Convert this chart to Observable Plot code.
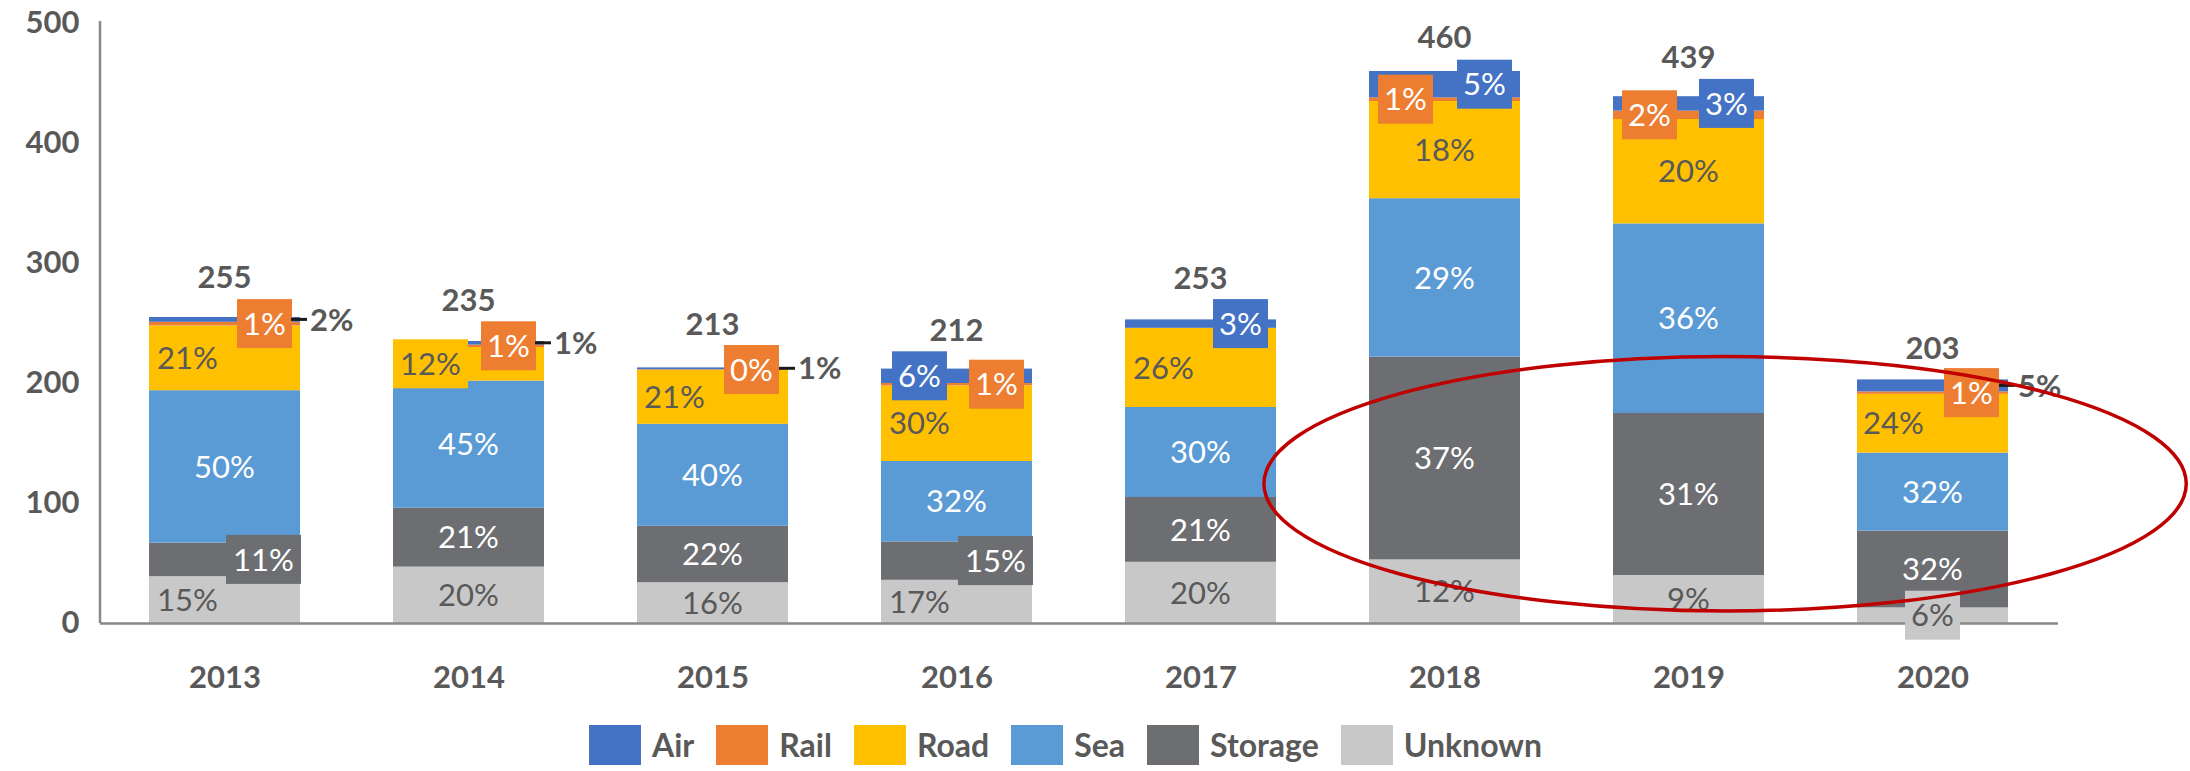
<!DOCTYPE html>
<html><head><meta charset="utf-8">
<script src="https://cdn.jsdelivr.net/npm/d3@7"></script>
<script src="https://cdn.jsdelivr.net/npm/@observablehq/plot@0.6"></script>
<style>
html,body{margin:0;padding:0;background:#fff;}
#chart{width:2190px;height:771px;position:relative;overflow:hidden;font-family:Lato,"Open Sans",sans-serif;}
#chart svg{display:block;}
.legend{display:flex;align-items:center;height:59px;padding-left:589px;padding-top:6px;box-sizing:border-box;}
.item{display:flex;align-items:center;margin-right:22px;}
.sw{width:52px;height:40px;margin-right:11px;}
.lab{font-size:32px;font-weight:700;color:#595959;line-height:40px;}
</style></head><body><div id="chart"></div>
<script>
// ---- data ----
const years = ["2013","2014","2015","2016","2017","2018","2019","2020"];
const legendOrder = ["Air","Rail","Road","Sea","Storage","Unknown"];
const stackOrder = ["Unknown","Storage","Sea","Road","Rail","Air"];
const unknown = [39, 47, 34, 36, 51, 53, 40, 13];
const storage = [28, 49, 47, 32, 54, 169, 135, 64];
const sea     = [127, 106, 85, 67, 75, 132, 158, 65];
const road    = [54, 28, 45, 63, 66, 81, 87, 49];
const rail    = [3, 2, 0.5, 2, 0, 3, 7, 2];
const air     = [4, 3, 1.5, 12, 7, 22, 12, 10];
const totals  = [255, 235, 213, 212, 253, 460, 439, 203];
const yTicks  = [0, 100, 200, 300, 400, 500];

// ---- styles / layout ----
const colors = {Air:"#4472C4", Rail:"#ED7D31", Road:"#FFC000", Sea:"#5B9BD5", Storage:"#6D6E71", Unknown:"#C8C8C8"};
const labelInk = {Air:"#FFFFFF", Rail:"#FFFFFF", Road:"#595959", Sea:"#FFFFFF", Storage:"#FFFFFF", Unknown:"#595959"};
const darkInk = "#595959";
// label placement per year: dx offset (px), box = label drawn on series-coloured box, out = outside with leader
const labelLayout = {
  "2013": {Unknown:{dx:-37}, Storage:{dx:39, box:true}, Sea:{}, Road:{dx:-37}, Rail:{dx:40, box:true}, Air:{out:true}},
  "2014": {Unknown:{}, Storage:{}, Sea:{}, Road:{dx:-38, box:true}, Rail:{dx:40, box:true}, Air:{out:true}},
  "2015": {Unknown:{}, Storage:{}, Sea:{}, Road:{dx:-38}, Rail:{dx:39, box:true}, Air:{out:true}},
  "2016": {Unknown:{dx:-37}, Storage:{dx:39, box:true}, Sea:{}, Road:{dx:-37}, Rail:{dx:40, box:true}, Air:{dx:-37, box:true}},
  "2017": {Unknown:{}, Storage:{}, Sea:{}, Road:{dx:-37}, Air:{dx:40, box:true}},
  "2018": {Unknown:{}, Storage:{}, Sea:{}, Road:{}, Rail:{dx:-39, box:true}, Air:{dx:40, box:true}},
  "2019": {Unknown:{}, Storage:{}, Sea:{}, Road:{}, Rail:{dx:-39, box:true}, Air:{dx:38, box:true}},
  "2020": {Unknown:{box:true}, Storage:{}, Sea:{}, Road:{dx:-39}, Rail:{dx:39, box:true}, Air:{out:true}}
};
const totalDy = [-40, -41, -44, -39, -42, -34, -39, -32];
// highlight ellipse (in data terms: around 2018-2020, value centre/radius)
const highlight = {year:"2019", shiftSteps:0.15, rxSteps:1.89, cyValue:116, ryValue:106};

const seriesValues = {Unknown:unknown, Storage:storage, Sea:sea, Road:road, Rail:rail, Air:air};
const rows = [];
years.forEach((yr, i) => stackOrder.forEach(s => rows.push({year: yr, series: s, value: seriesValues[s][i]})));

const FONT = "Lato, 'Open Sans', sans-serif";

function annotate(index, scales, values, dims) {
  const x = scales.x, y = scales.y;
  const bw = typeof x.bandwidth === "function" ? x.bandwidth() : x.bandwidth;
  const step = typeof x.step === "function" ? x.step() : x.step;
  const g = d3.create("svg:g").attr("font-family", FONT).attr("font-size", 31);
  // y axis line
  g.append("line").attr("x1", dims.marginLeft).attr("x2", dims.marginLeft)
    .attr("y1", y(500) - 2).attr("y2", y(0)).attr("stroke", "#898989").attr("stroke-width", 2.5);
  years.forEach((yr, i) => {
    const cx = x(yr) + bw / 2;
    const total = stackOrder.reduce((a, s) => a + seriesValues[s][i], 0);
    let cum = 0;
    stackOrder.forEach(s => {
      const v = seriesValues[s][i];
      const mid = cum + v / 2; cum += v;
      const lay = labelLayout[yr][s];
      if (!lay) return;
      const pct = Math.round(v / total * 100) + "%";
      const py = y(mid);
      if (lay.out) {
        const right = cx + bw / 2;
        g.append("line").attr("x1", right - 9).attr("x2", right + 7).attr("y1", py).attr("y2", py)
          .attr("stroke", "#1a1a1a").attr("stroke-width", 3);
        g.append("text").attr("x", right + 10).attr("y", py).attr("dy", "0.36em")
          .attr("text-anchor", "start").attr("font-weight", 700).attr("fill", darkInk).text(pct);
        return;
      }
      const tx = cx + (lay.dx || 0);
      if (lay.box) {
        const w = pct.length > 2 ? 75 : 55;
        g.append("rect").attr("x", tx - w / 2).attr("y", py - 24.5).attr("width", w).attr("height", 49)
          .attr("fill", colors[s]);
      }
      g.append("text").attr("x", tx).attr("y", py).attr("dy", "0.36em")
        .attr("text-anchor", "middle").attr("fill", labelInk[s]).text(pct);
    });
    g.append("text").attr("x", cx).attr("y", y(totals[i]) + totalDy[i]).attr("dy", "0.36em")
      .attr("text-anchor", "middle").attr("font-weight", 700).attr("fill", darkInk).text(totals[i]);
  });
  // highlight ellipse
  const ecx = x(highlight.year) + bw / 2 + highlight.shiftSteps * step;
  const ecy = y(highlight.cyValue);
  g.append("ellipse").attr("cx", ecx).attr("cy", ecy)
    .attr("rx", highlight.rxSteps * step)
    .attr("ry", Math.abs(y(highlight.cyValue - highlight.ryValue) - ecy))
    .attr("fill", "none").attr("stroke", "#C00000").attr("stroke-width", 3.5);
  return g.node();
}

const plot = Plot.plot({
  width: 2190, height: 712,
  marginLeft: 100, marginRight: 132, marginTop: 23, marginBottom: 89,
  style: {fontFamily: FONT, fontSize: "31px", color: "#595959", background: "#fff", overflow: "visible"},
  x: {domain: years, paddingInner: 0.38, paddingOuter: 0.19, align: 0.5, label: null},
  y: {domain: [0, 500], label: null},
  color: {domain: legendOrder, range: legendOrder.map(s => colors[s])},
  marks: [
    Plot.barY(rows, {x: "year", y: "value", fill: "series", order: stackOrder}),
    Plot.ruleY([0], {stroke: "#898989", strokeWidth: 2.5}),
    Plot.axisY(yTicks, {tickSize: 0, tickPadding: 21, fontWeight: "bold", fontSize: 31, label: null}),
    Plot.axisX({tickSize: 0, tickPadding: 42, fontWeight: "bold", fontSize: 31, label: null}),
    annotate
  ]
});

const root = document.getElementById("chart");
root.appendChild(plot);
const legend = document.createElement("div");
legend.className = "legend";
legendOrder.forEach(s => {
  const it = document.createElement("div"); it.className = "item";
  const sw = document.createElement("div"); sw.className = "sw"; sw.style.background = colors[s];
  const lb = document.createElement("span"); lb.className = "lab"; lb.textContent = s;
  it.appendChild(sw); it.appendChild(lb); legend.appendChild(it);
});
root.appendChild(legend);
</script></body></html>
